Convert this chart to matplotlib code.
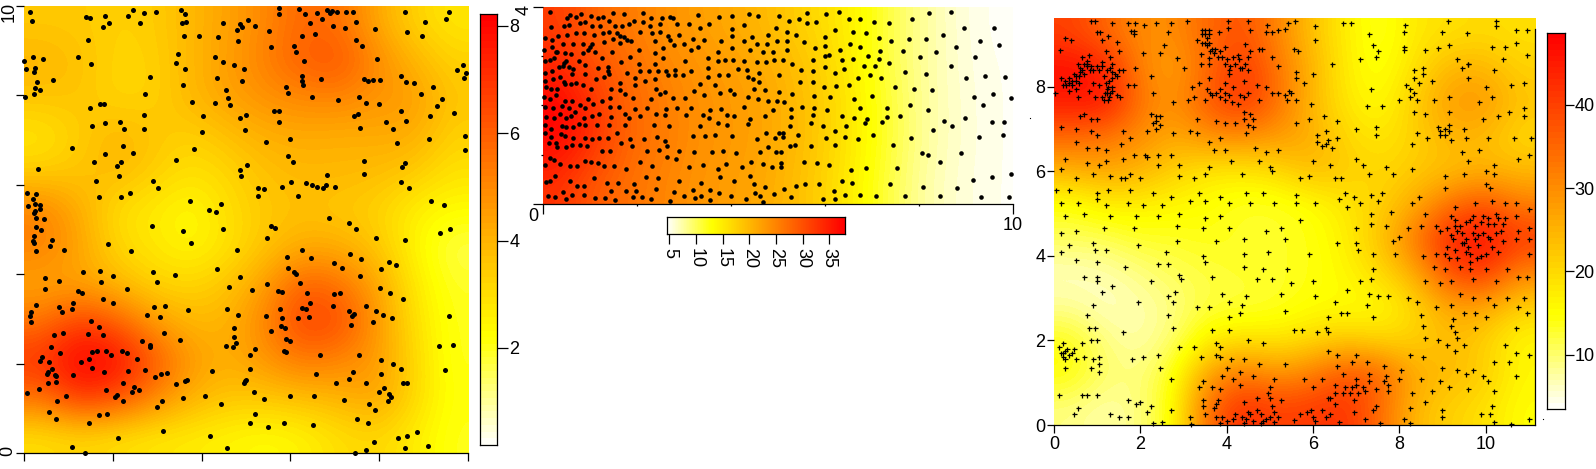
import colorsys
import numpy as np
import matplotlib
matplotlib.use("Agg")
import matplotlib.pyplot as plt
from matplotlib.colors import ListedColormap

W, H = 1596, 469
plt.rcParams['font.family'] = ['Liberation Sans', 'DejaVu Sans']

# fields, top row first
field1 = [
    [3.5, 3.5, 3.3, 3.4, 3.9, 4.4, 5.0, 5.8, 5.6, 4.3, 3.3, 2.8],
    [4.0, 3.7, 3.2, 3.3, 3.9, 4.5, 5.2, 6.0, 6.3, 5.0, 4.0, 3.3],
    [3.6, 3.6, 3.2, 3.3, 3.9, 4.4, 4.8, 5.0, 5.1, 4.7, 4.6, 3.6],
    [2.8, 3.4, 4.0, 3.6, 3.3, 3.7, 4.1, 4.2, 4.1, 4.2, 4.2, 3.3],
    [3.4, 3.6, 3.9, 3.4, 2.9, 3.2, 3.7, 3.9, 3.9, 3.8, 3.5, 2.9],
    [5.2, 4.2, 3.0, 2.7, 2.3, 3.0, 3.5, 3.7, 3.5, 3.3, 2.6, 2.3],
    [5.2, 4.4, 3.2, 2.8, 2.4, 2.9, 3.6, 4.2, 4.2, 3.6, 2.5, 1.6],
    [4.3, 4.4, 3.9, 3.3, 3.2, 3.6, 4.5, 6.0, 5.6, 4.4, 2.8, 1.9],
    [5.5, 6.8, 6.0, 4.6, 3.9, 4.0, 5.1, 6.7, 6.5, 4.7, 3.0, 2.0],
    [7.0, 8.3, 8.0, 6.2, 4.6, 4.1, 4.7, 5.4, 5.1, 4.6, 3.2, 2.0],
    [5.6, 7.1, 6.5, 5.2, 4.1, 3.6, 3.6, 3.8, 4.0, 4.5, 3.2, 2.1],
    [3.0, 3.2, 3.0, 2.8, 2.7, 2.5, 2.3, 2.5, 3.0, 3.2, 2.7, 2.0],
]
field2 = [
    [32, 28, 26, 24, 22.5, 21.5, 20, 18, 16, 13.5, 10, 7.5, 5.7, 4.8],
    [34, 30, 27.5, 25, 23.5, 22.5, 21.5, 19.5, 17, 13.5, 10, 7.5, 5.8, 5.0],
    [38, 33, 28, 26, 24, 23, 22, 20, 17.5, 14, 10.5, 7.5, 6, 5],
    [37, 33, 28, 26, 24, 23, 22, 20, 17.5, 14, 10.5, 7.5, 6, 5],
    [33, 29, 27, 25, 23.5, 22.5, 21.5, 19.5, 17, 13.5, 10, 7.2, 5.8, 5],
]
field3 = [
    [40, 35, 30, 30, 35, 38, 31, 23, 17, 13, 18, 19, 20, 19],
    [47, 45, 31, 27, 35, 42, 33, 25, 17, 14, 19, 25, 25, 21],
    [45, 46, 33, 29, 37, 42, 34, 24, 18, 15, 22, 28, 29, 23],
    [35, 33, 30, 26, 30, 30, 28, 26, 20, 18, 21, 25, 24, 20],
    [25, 27, 25, 21, 18, 18, 20, 24, 22, 20, 22, 23, 25, 24],
    [14, 17, 17, 16, 15, 13, 13, 15, 18, 21, 26, 34, 38, 32],
    [11, 11, 13, 13, 14, 13, 13, 14, 17, 23, 33, 44, 47, 41],
    [6, 7, 9, 11, 12, 13, 13, 14, 16, 20, 26, 39, 42, 31],
    [8, 6, 7, 9, 12, 12, 13, 15, 15, 15, 20, 27, 27, 21],
    [14, 9, 7, 10, 17, 19, 18, 20, 22, 20, 21, 24, 21, 16],
    [15, 10, 9, 14, 28, 33, 29, 32, 38, 36, 26, 24, 22, 16],
    [9, 7, 9, 15, 35, 43, 40, 41, 42, 34, 24, 21, 19, 15],
]

range1 = (0.19, 8.22)
range2 = (4.56, 37.95)
range3 = (3.47, 48.65)

points1 = [
    (.14,9.87),(.19,9.67),(1.40,9.76),(1.50,9.74),(1.82,9.78),(1.79,9.54),(1.91,9.63),(2.35,9.78),(2.45,9.91),(2.61,9.63),(2.71,9.85),(2.97,9.87),
    (3.53,9.91),(3.64,9.82),(3.56,9.63),(3.66,9.65),(3.60,9.33),(3.94,9.33),(4.37,9.31),(4.48,9.63),(4.79,9.46),(4.86,9.60),(4.90,9.54),(5.04,9.69),
    (5.20,9.55),(4.83,9.22),(5.52,9.44),(5.56,9.08),(5.74,9.96),(5.74,9.82),(6.19,9.93),(6.32,9.82),(6.44,9.62),(6.60,9.85),(6.71,9.71),(6.82,9.91),
    (6.88,9.85),(6.93,9.88),(7.04,9.87),(7.25,9.87),(7.40,9.87),(7.48,9.64),(6.95,9.55),(7.23,9.51),(6.25,9.33),(6.55,9.37),(7.47,9.24),(7.61,9.11),
    (7.90,9.49),(8.57,9.87),(8.62,9.42),(9.02,9.64),(8.97,9.33),(9.51,9.71),(9.56,9.87),(6.08,9.11),(6.12,8.97),(6.30,8.77),(7.94,8.82),
    (0,8.77),(.21,8.86),(.05,8.59),(.25,8.61),(.24,8.53),(.43,8.82),(1.22,8.86),(1.51,8.70),(1.44,9.24),(.66,8.35),(.30,8.30),(.26,8.17),(.36,8.11),(.24,8.03),(.02,7.97),
    (3.47,8.93),(3.43,8.73),(3.62,8.59),(3.58,8.23),(2.84,8.41),(2.73,8.03),(4.30,8.86),(4.48,8.75),(4.72,8.68),(4.95,8.59),(4.35,8.39),(4.92,8.32),(4.55,8.11),(4.59,7.94),
    (4.30,7.83),(4.64,7.79),(3.78,7.85),(4.03,7.54),(4.01,7.18),(5.90,8.19),(5.94,8.06),(6.25,8.44),(6.25,8.32),(6.28,8.23),(6.69,8.37),(6.48,7.97),(7.07,7.90),(7.54,7.97),
    (7.70,7.83),(7.65,8.37),(7.74,8.33),(7.85,8.35),(8.01,8.35),(7.99,7.81),(8.48,8.44),(8.59,8.31),(8.77,8.28),(9.20,8.19),(8.93,8.03),(9.40,7.92),(9.29,7.76),(9.74,8.57),
    (9.88,8.68),(9.95,8.50),(9.90,8.39),(1.50,7.72),(1.72,7.81),(1.81,7.81),(2.71,7.56),(2.17,7.41),(1.83,7.38),(1.53,7.32),(2.26,7.25),(2.71,7.25),(2.23,6.87),(2.46,6.71),
    (1.83,6.69),(1.09,6.83),(1.58,6.51),(2.19,6.51),(2.10,6.43),(2.14,6.20),(.32,6.36),(1.63,6.09),(1.69,5.73),(2.19,5.73),(2.39,5.82),(2.91,6.09),(3.02,5.93),(3.43,6.56),(3.83,6.80),
    (4.86,7.50),(5.00,7.56),(4.98,7.23),(5.63,7.65),(5.74,7.65),(5.74,7.41),(5.45,6.96),(5.99,7.03),(5.94,6.65),(6.06,6.51),(5.02,6.45),(4.86,6.33),(4.89,6.20),(5.27,5.93),(5.40,5.91),
    (5.27,5.75),(5.81,5.95),(6.01,6.07),(6.17,5.75),(6.35,6.04),(6.48,6.00),(6.60,5.95),(6.73,5.93),(6.80,6.00),(6.82,6.22),(7.00,5.95),(7.42,7.54),(7.52,7.59),(7.56,7.27),(8.14,7.41),
    (8.31,7.25),(8.48,7.65),(8.59,7.43),(8.40,6.94),(9.13,7.54),(9.67,7.61),(9.11,7.03),(9.92,7.09),(9.92,6.78),(7.65,6.54),(7.65,6.24),(8.57,6.49),(8.50,6.40),(8.48,6.07),(8.66,5.93),(9.16,5.64),(9.45,5.55),
    (.08,5.82),(.27,5.80),(.21,5.69),(.10,5.53),(.25,5.57),(.36,5.55),(.36,5.46),(.25,5.42),(.24,5.37),(.27,5.26),(.46,5.24),(.28,5.06),(.39,4.99),(.24,4.86),(.21,4.75),(.23,4.69),(.27,4.52),
    (.64,4.77),(.59,4.63),(.90,4.55),(1.89,4.68),(2.42,4.52),(2.89,5.08),(3.58,4.97),(3.76,4.70),(3.74,5.64),(4.16,5.44),(4.32,5.39),(4.44,5.57),(4.48,5.01),(4.79,4.55),(5.56,5.08),(5.65,5.04),
    (5.47,4.81),(6.86,5.26),(7.32,5.15),(7.47,5.01),(7.92,4.81),(8.57,4.77),(9.36,4.93),(9.58,5.01),(5.92,4.39),(6.25,4.55),(6.46,4.37),(7.34,4.46),(7.58,4.34),(6.98,4.25),(7.16,4.14),(5.94,4.14),
    (6.07,4.05),(6.12,4.01),(6.21,3.81),(4.86,3.94),(4.35,4.12),(3.40,3.99),(2.91,4.05),(3.00,3.83),(2.01,3.96),(1.72,4.08),(1.74,3.83),(1.34,4.05),(.48,3.92),(.79,3.85),(.48,3.67),(1.22,3.63),
    (1.31,3.58),(2.33,3.67),(1.79,3.45),(2.01,3.36),(1.11,3.36),(.27,3.32),(.79,3.27),(1.09,3.23),(.86,3.16),(.17,3.16),(.14,3.07),(.17,2.94),(2.93,3.27),(3.18,3.29),(2.77,3.09),(3.06,3.05),(3.69,3.20),
    (1.51,2.96),(1.69,2.82),(1.44,2.67),(1.79,2.65),(.88,2.69),(.68,2.65),(3.15,2.69),(2.66,2.51),(2.84,2.41),(2.84,2.38),(3.51,2.53),(4.61,3.72),(5.13,3.65),(5.47,3.79),(5.72,3.63),(5.81,3.61),
    (6.37,3.58),(6.44,3.36),(6.98,3.56),(7.11,3.58),(7.56,3.96),(8.03,4.12),(8.21,4.28),(8.37,4.21),(8.01,3.70),(8.24,3.58),(8.53,3.45),(4.57,3.23),(4.83,3.09),(5.45,3.07),(5.76,3.23),(5.81,3.03),
    (6.25,3.25),(6.35,3.23),(6.17,3.03),(6.41,3.05),(6.95,3.29),(7.32,3.18),(7.42,3.11),(7.38,3.07),(7.70,3.29),(7.92,3.18),(8.08,3.09),(8.28,3.03),(7.85,2.94),(7.36,2.87),(9.56,3.07),(4.72,2.80),
    (4.72,2.60),(4.77,2.47),(4.55,2.40),(4.70,2.38),(5.20,2.33),(5.09,2.20),(5.56,2.73),(5.78,2.85),(5.87,2.80),(5.90,2.56),(5.99,2.51),(5.85,2.29),(5.90,2.27),(6.66,2.20),(7.54,2.20),(9.34,2.40),(9.65,2.42),(9.48,1.86),
    (.62,2.38),(.81,2.24),(.41,2.15),(.36,2.06),(.57,2.04),(1.53,2.27),(1.65,2.29),(1.85,2.29),(1.96,2.20),(2.21,2.29),(2.33,2.24),(1.47,2.11),(1.29,2.04),(2.55,2.11),(1.53,1.91),(1.81,1.82),(2.35,1.84),
    (2.73,1.86),(.64,1.89),(.54,1.82),(.52,1.77),(.70,1.75),(.73,1.73),(1.11,1.75),(2.96,1.71),(3.09,1.77),(3.22,1.80),(.55,1.57),(.73,1.59),(2.23,1.57),(.34,1.44),(2.48,1.48),(2.59,1.42),(2.44,1.37),
    (1.85,1.42),(.08,1.35),(2.09,1.30),(2.05,1.26),(.95,1.28),(.75,1.17),(2.23,1.17),(3.11,1.17),(2.99,1.04),(.57,.92),(.73,.75),(1.69,.86),(1.87,.88),(1.47,.66),(2.12,.34),(3.13,.50),(1.09,.14),(1.38,.01),
    (3.43,1.55),(3.64,1.62),(3.67,1.64),(3.58,1.24),(4.08,1.28),(4.23,1.84),(4.44,1.10),(5.09,1.89),(5.00,1.64),(4.98,1.62),(4.95,1.57),(5.17,1.37),(5.40,1.21),(5.99,1.28),(6.53,1.28),(5.20,.88),(5.09,.66),
    (5.49,.59),(5.85,.68),(6.50,.63),(4.19,.37),(4.57,.12),(6.57,1.77),(7.02,1.57),(7.32,1.66),(7.40,1.82),(7.70,1.57),(8.03,2.09),(8.03,1.77),(8.31,2.00),(8.48,1.89),(8.53,1.57),(8.62,1.57),(8.10,1.46),
    (7.99,1.37),(8.21,1.33),(8.26,1.26),(8.19,1.17),(7.20,1.19),(7.77,1.10),(7.90,.97),(7.49,.77),(7.74,.66),(8.84,.48),(8.62,.39),(8.41,.34),(7.87,.25),(9.09,.16),(8.57,.12),(7.70,.07),(7.45,.01),
]

points2 = [
    (.14,3.89),(.57,3.83),(.80,3.85),(1.02,3.81),(1.17,3.77),(1.27,3.79),(1.49,3.87),(1.72,3.85),(2.13,3.87),(2.30,3.77),(2.52,3.77),(2.69,3.79),(2.77,3.77),(3.30,3.83),(3.75,3.79),(4.02,3.81),
    (4.39,3.85),(4.58,3.81),(5.02,3.81),(5.62,3.87),(6.01,3.85),(6.29,3.89),(6.51,3.75),(6.75,3.75),(7.05,3.69),(7.37,3.68),(7.86,3.76),(8.22,3.87),(8.69,3.89),
    (.16,3.59),(.44,3.61),(.50,3.77),(.55,3.63),(.70,3.79),(.78,3.67),(.89,3.69),(1.04,3.61),(1.21,3.61),(1.40,3.71),(1.53,3.61),(1.68,3.61),(1.83,3.65),(1.93,3.71),(2.12,3.69),(2.27,3.61),
    (2.49,3.65),(2.85,3.65),(3.11,3.65),(3.34,3.57),(3.52,3.65),(4.02,3.56),(4.28,3.63),(4.96,3.57),(5.24,3.71),(5.45,3.75),(5.62,3.67),(5.81,3.69),(6.22,3.53),(8.95,3.58),(9.59,3.58),
    (.04,3.38),(.19,3.32),(.32,3.42),(.50,3.44),(.70,3.48),(.87,3.48),(1.08,3.44),(1.27,3.48),(1.40,3.50),(1.57,3.47),(1.64,3.42),(1.72,3.40),(1.78,3.33),(2.06,3.50),(2.32,3.48),(2.49,3.50),
    (2.66,3.42),(2.70,3.33),(2.89,3.44),(3.19,3.36),(3.42,3.34),(4.02,3.42),(4.45,3.40),(4.79,3.44),(5.19,3.50),(5.39,3.44),(5.99,3.40),(6.60,3.50),(6.88,3.48),(7.14,3.38),(7.41,3.30),(7.79,3.36),(8.14,3.36),(8.52,3.44),(9.29,3.31),
    (.01,3.13),(.19,3.18),(.29,3.08),(.42,3.24),(.63,3.24),(.85,3.24),(1.04,3.24),(1.29,3.28),(1.49,3.36),(1.64,3.27),(1.87,3.30),(2.04,3.12),(2.38,3.30),(2.38,3.06),(2.55,3.16),(2.79,3.22),(3.00,3.24),
    (3.15,3.12),(3.30,3.18),(3.79,3.30),(3.72,3.09),(4.02,3.16),(4.41,3.13),(4.28,3.30),(4.56,3.24),(4.77,3.24),(4.98,3.30),(5.19,3.30),(5.19,3.12),(4.88,3.08),(4.68,3.08),(5.54,3.28),(5.79,3.16),(5.99,3.21),(6.09,3.03),
    (6.31,3.13),(6.52,3.24),(6.75,3.19),(7.16,3.11),(7.65,3.10),(8.37,3.08),(8.78,3.19),(9.70,3.22),
    (.04,2.91),(.23,2.97),(.27,3.08),(.14,2.93),(.46,3.06),(.59,3.04),(.48,2.90),(.76,2.91),(.85,3.06),(.95,3.13),(.99,3.18),(1.10,3.08),(1.25,2.96),(1.46,3.08),(1.66,2.89),(1.85,2.99),(2.04,2.85),
    (2.38,2.85),(2.55,2.96),(3.02,2.91),(3.51,2.96),(3.72,2.90),(3.87,2.93),(4.04,2.93),(4.28,2.91),(4.56,2.89),(4.75,2.89),(4.92,2.93),(5.11,2.93),(5.30,2.85),(5.75,2.93),(5.99,3.00),(6.35,2.93),(6.60,2.95),
    (6.92,3.00),(7.14,2.95),(7.37,2.87),(8.01,2.98),(9.19,2.98),(8.67,2.81),
    (.03,2.65),(.19,2.71),(.33,2.78),(.44,2.87),(.42,2.81),(.55,2.79),(.63,2.75),(.89,2.82),(1.17,2.77),(1.38,2.79),(1.38,2.71),(1.78,2.65),(2.06,2.71),(2.25,2.71),(2.45,2.71),(2.62,2.71),(2.81,2.73),
    (3.15,2.71),(3.51,2.77),(4.15,2.75),(4.34,2.73),(4.60,2.67),(5.49,2.73),(5.75,2.71),(5.99,2.79),(6.20,2.65),(6.41,2.75),(6.82,2.81),(7.07,2.81),(7.71,2.69),(8.14,2.63),
    (.03,2.50),(.21,2.53),(.36,2.58),(.44,2.48),(.61,2.63),(.70,2.46),(.89,2.63),(1.12,2.53),(1.29,2.57),(1.40,2.63),(1.64,2.46),(1.95,2.55),(2.17,2.50),(2.38,2.53),(2.66,2.61),(2.81,2.61),(2.98,2.61),
    (3.34,2.43),(3.51,2.58),(3.75,2.61),(3.94,2.61),(4.36,2.57),(4.47,2.54),(4.60,2.48),(5.02,2.61),(5.47,2.47),(5.75,2.47),(6.71,2.55),(6.95,2.61),(7.20,2.56),(8.99,2.55),(9.41,2.59),(9.82,2.57),
    (.06,2.38),(.16,2.34),(.29,2.34),(.46,2.44),(.59,2.44),(.85,2.42),(1.02,2.33),(1.44,2.34),(1.63,2.31),(1.95,2.41),(2.40,2.34),(2.59,2.28),(3.21,2.30),(3.66,2.41),(3.98,2.32),(4.49,2.34),(4.71,2.32),(5.02,2.28),
    (5.98,2.38),(6.24,2.39),(6.50,2.41),(7.48,2.38),(7.90,2.33),(8.27,2.31),
    (.01,2.18),(.14,2.14),(.27,2.22),(.46,2.09),(.61,2.10),(.95,2.13),(1.25,2.10),(1.42,2.16),(1.74,2.24),(1.91,2.16),(2.30,2.14),(2.49,2.24),(2.77,2.16),(3.02,2.16),(3.43,2.22),(3.77,2.26),(4.07,2.24),(4.36,2.18),
    (4.58,2.14),(4.79,2.10),(4.98,2.10),(5.13,2.08),(5.30,2.24),(5.77,2.20),(6.11,2.17),(6.62,2.13),(7.00,2.20),(9.18,2.18),(9.57,2.24),(9.95,2.16),
    (.04,1.96),(.21,1.94),(.40,1.98),(.55,1.94),(.68,1.87),(.78,2.02),(.89,1.94),(1.06,2.04),(1.42,1.97),(1.61,1.96),(1.95,1.92),(2.21,1.94),(2.62,1.92),(2.85,1.94),(3.15,1.94),(3.55,1.90),(3.79,1.92),(4.28,1.96),
    (4.90,1.90),(5.28,1.93),(5.51,1.97),(5.77,1.94),(6.04,1.90),(6.75,1.94),(7.31,1.94),(7.80,2.02),(8.18,1.90),(9.37,2.02),
    (.06,1.77),(.23,1.74),(.36,1.82),(.49,1.74),(.59,1.79),(.87,1.74),(1.04,1.78),(1.19,1.82),(1.44,1.77),(1.75,1.83),(1.83,1.74),(2.06,1.78),(2.40,1.82),(2.60,1.80),(3.04,1.80),(3.39,1.80),(3.53,1.74),(3.92,1.80),
    (4.07,1.79),(4.41,1.73),(4.71,1.79),(5.28,1.77),(5.75,1.80),(6.37,1.78),(6.62,1.75),(6.89,1.72),(7.31,1.77),(7.60,1.78),(8.53,1.69),(8.98,1.74),(9.56,1.67),(9.81,1.66),
    (.03,1.60),(.16,1.52),(.39,1.58),(.49,1.56),(.64,1.56),(.75,1.62),(.89,1.60),(1.15,1.60),(1.40,1.60),(1.74,1.60),(2.36,1.60),(2.68,1.59),(3.34,1.59),(3.72,1.65),(3.91,1.60),(4.36,1.62),(4.75,1.44),(5.01,1.44),
    (5.26,1.59),(5.69,1.64),(5.96,1.58),(6.45,1.59),(6.84,1.65),(7.22,1.66),(7.83,1.35),(8.30,1.50),(8.71,1.59),
    (.03,1.44),(.16,1.36),(.38,1.43),(.46,1.39),(.63,1.33),(.89,1.33),(1.04,1.32),(1.19,1.33),(1.38,1.33),(1.57,1.44),(1.85,1.32),(2.15,1.32),(2.42,1.36),(2.59,1.28),(3.19,1.38),(3.45,1.38),(3.66,1.40),(4.02,1.38),
    (4.54,1.32),(4.94,1.34),(5.11,1.44),(5.11,1.37),(5.43,1.40),(6.01,1.34),(6.20,1.49),(6.43,1.37),(6.71,1.32),(7.03,1.40),(9.27,1.36),(9.78,1.40),
    (.12,1.24),(.27,1.24),(.29,1.16),(.48,1.16),(.61,1.20),(.78,1.20),(.93,1.17),(1.25,1.08),(1.42,1.08),(1.66,1.23),(1.89,1.17),(2.21,1.08),(2.47,1.10),(2.64,1.18),(2.89,1.08),(3.21,1.06),(3.60,1.06),(3.83,1.08),
    (4.11,1.04),(4.62,1.06),(4.79,1.15),(4.96,1.06),(5.07,1.06),(5.26,1.18),(5.35,1.20),(5.71,1.18),(6.20,1.20),(7.44,1.20),(8.07,1.04),(8.89,1.04),
    (.04,.79),(.14,.94),(.23,.89),(.36,.81),(.57,.77),(.72,.77),(.89,.87),(1.01,.85),(1.16,.83),(1.29,.77),(1.51,.77),(1.76,.72),(2.06,.85),(2.32,.77),(2.64,.95),(2.83,.91),(3.11,.75),(3.40,.79),(3.72,.72),(3.90,.82),(4.24,.75),
    (4.43,.85),(4.67,.81),(4.87,.75),(5.07,.75),(5.07,.83),(5.54,.85),(5.82,.83),(6.08,.79),(6.56,.69),(6.86,.73),(7.52,.73),(8.19,.99),(8.44,.85),(9.95,.60),
    (.06,.45),(.14,.46),(.25,.56),(.57,.46),(.72,.37),(.87,.37),(1.08,.52),(1.35,.43),(1.59,.43),(1.93,.41),(2.19,.54),(2.45,.52),(2.89,.46),(3.36,.43),(3.77,.54),(4.06,.46),(4.41,.56),(4.49,.41),(4.71,.34),(5.37,.37),(5.57,.41),
    (5.87,.41),(6.35,.46),(6.58,.43),(7.39,.41),(9.14,.48),(9.55,.54),
    (.09,.17),(.25,.15),(.42,.25),(.48,.10),(.61,.19),(.87,.19),(1.10,.13),(1.32,.13),(1.45,.27),(1.53,.08),(1.76,.27),(1.91,.15),(1.98,.27),(2.10,.15),(2.30,.11),(2.40,.31),(2.70,.06),(2.79,.25),(3.00,.17),(3.19,.29),(3.23,.13),
    (3.36,.17),(3.55,.09),(3.55,.29),(3.75,.23),(4.00,.17),(4.32,.11),(4.51,.23),(4.62,.17),(4.68,.05),(4.92,.21),(5.13,.31),(5.28,.15),(5.96,.11),(6.18,.27),(6.22,.11),(6.43,.19),(6.75,.19),(7.09,.17),(7.71,.17),(8.08,.35),(8.44,.17),(8.80,.33),(9.31,.15),(9.91,.15),
]

points3 = [
    (.86,9.55),(.95,9.55),(1.35,9.51),(1.70,9.51),(1.88,9.51),(2.08,9.47),(2.37,9.51),(2.70,9.51),(3.08,9.55),(4.04,9.55),(4.49,9.56),(4.94,9.47),(5.42,9.52),(5.59,9.57),(6.05,9.44),(6.70,9.51),(6.89,9.52),(8.14,9.47),(9.12,9.55),(10.25,9.55),(10.25,9.45),
    (1.00,9.30),(1.07,9.30),(1.86,9.33),(1.86,9.25),(1.77,9.33),(2.65,9.30),(3.42,9.35),(3.42,9.25),(3.50,9.35),(3.50,9.25),(3.58,9.35),(3.58,9.25),(3.82,9.30),(4.04,9.40),(4.55,9.35),(4.92,9.30),(5.05,9.30),(5.18,9.35),(5.35,9.38),(7.30,9.25),(8.10,9.30),(9.00,9.30),(9.58,9.27),(10.70,9.35),(10.95,9.35),
    (.25,9.15),(.40,9.10),(1.10,9.10),(1.25,9.20),(1.45,9.07),(2.55,9.00),(3.30,9.10),(3.42,9.05),(3.50,9.05),(3.60,9.05),(3.65,8.90),(3.73,8.90),(3.95,8.95),(4.42,9.02),(4.75,8.90),(4.82,8.90),(5.55,8.90),(6.05,9.10),(7.40,8.98),(7.50,8.85),(8.10,8.95),(8.10,8.88),(8.60,8.88),(8.90,8.93),(9.15,8.98),(10.15,8.95),(10.45,8.95),(10.70,9.05),
    (.13,8.88),(.65,8.70),(.80,8.75),(1.20,8.85),(1.30,8.70),(1.50,8.85),(2.05,8.80),(2.45,8.80),(2.85,8.68),(3.40,8.78),(3.60,8.68),(3.80,8.70),(4.25,8.75),(4.50,8.70),(4.55,8.85),(5.05,8.70),(5.65,8.85),(6.45,8.55),(7.10,8.65),(7.45,8.70),(9.35,8.65),(9.60,8.55),(10.40,8.65),(10.95,8.75),
    (.55,8.55),(.60,8.45),(.65,8.40),(.68,8.55),(.75,8.50),(.85,8.50),(.90,8.40),(1.00,8.50),(1.05,8.40),(1.30,8.45),(1.35,8.35),(1.35,8.55),(1.50,8.40),(1.60,8.40),(1.88,8.45),(3.00,8.45),(3.40,8.55),(3.95,8.55),(4.05,8.40),(4.05,8.30),(4.30,8.45),(4.42,8.55),(4.50,8.40),(5.20,8.50),(5.60,8.35),(6.00,8.30),(8.35,8.40),(8.55,8.30),(8.55,8.45),(9.45,8.45),(9.60,8.55),(10.20,8.40),
    (.15,8.20),(.25,8.15),(.35,8.20),(.45,8.30),(.50,8.15),(.60,8.35),(.70,8.30),(.90,8.10),(1.05,8.05),(1.15,8.25),(1.20,8.10),(1.25,8.00),(1.40,8.30),(1.70,8.05),(1.85,8.05),(2.25,8.25),(3.20,8.00),(3.35,8.10),(3.60,8.20),(4.15,8.00),(4.40,8.15),(4.70,8.05),(4.90,8.00),(5.60,8.20),(5.80,8.10),(7.35,7.95),(8.15,8.05),(8.45,8.10),(8.75,8.15),(9.60,8.20),(10.00,8.00),(10.60,8.05),(10.90,8.10),
    (.02,7.85),(.35,7.90),(.50,7.95),(.55,7.75),(.80,7.90),(.95,7.75),(1.10,7.75),(1.17,7.85),(1.25,7.70),(1.30,7.85),(1.45,7.80),(2.30,7.85),(2.75,7.65),(3.10,7.70),(3.25,7.75),(3.50,7.70),(3.65,7.80),(3.85,7.75),(3.95,7.70),(4.25,7.60),(4.40,7.75),(4.75,7.70),(5.35,7.80),(5.50,7.85),(5.60,7.70),(5.95,7.60),(8.00,7.70),(8.25,7.75),(8.80,7.70),(9.15,7.75),(9.85,7.65),(10.15,7.75),(10.90,7.50),
    (.60,7.30),(.70,7.35),(.85,7.25),(1.00,7.25),(2.25,7.35),(2.35,7.20),(2.45,7.10),(3.30,7.25),(3.75,7.20),(3.95,7.15),(4.20,7.15),(4.40,7.25),(4.50,7.10),(5.60,7.15),(5.90,7.25),(6.25,7.30),(6.55,7.20),(7.25,7.55),(7.60,7.55),(8.35,7.40),(8.60,7.35),(9.15,7.40),(9.95,7.25),(10.30,7.30),(10.55,7.40),(10.90,7.30),
    (.15,7.05),(.50,7.00),(.85,6.95),(1.00,6.85),(1.60,6.95),(1.75,6.80),(2.15,6.95),(2.35,7.00),(2.75,6.90),(3.15,6.95),(3.30,6.90),(3.60,6.70),(3.85,6.80),(4.45,6.90),(6.10,6.85),(6.35,6.75),(6.55,6.80),(7.00,7.00),(7.45,7.05),(7.45,6.85),(8.40,6.90),(8.65,6.80),(8.95,6.85),(9.20,6.75),(9.55,6.80),(10.05,6.80),(10.65,6.80),(11.05,6.80),
    (.50,6.70),(.75,6.55),(1.00,6.55),(1.20,6.50),(1.55,6.65),(1.85,6.40),(2.10,6.40),(2.40,6.40),(2.70,6.40),(3.70,6.50),(3.95,6.50),(4.65,6.55),(4.90,6.45),(5.20,6.50),(6.30,6.65),(6.45,6.55),(8.30,6.65),(9.45,6.45),(9.85,6.50),
    (.25,6.30),(.15,6.05),(.75,6.20),(1.05,6.15),(1.20,6.25),(1.60,6.30),(2.15,6.35),(2.40,6.15),(2.90,6.15),(3.60,6.10),(4.10,6.25),(4.75,6.25),(5.00,6.10),(6.00,6.25),(6.40,6.15),(7.00,6.30),(7.15,6.15),(7.70,6.10),(8.30,6.05),(9.60,6.25),(10.20,6.15),(10.75,6.30),(11.00,6.40),
    (.50,5.85),(.90,5.95),(1.30,5.90),(1.55,5.85),(1.65,5.85),(1.75,5.95),(2.00,5.85),(2.90,5.90),(3.25,5.85),(3.50,5.95),(4.35,5.95),(5.05,6.00),(5.70,5.85),(5.90,5.90),(6.50,5.85),(6.65,5.85),(7.30,5.95),(7.85,5.95),(9.05,5.90),(9.50,5.95),(10.00,6.00),(10.20,5.95),
    (.05,5.55),(.35,5.55),(1.00,5.50),(1.25,5.55),(1.75,5.55),(2.30,5.50),(2.70,5.40),(3.35,5.50),(3.85,5.40),(4.45,5.50),(4.85,5.50),(5.60,5.45),(6.75,5.50),(6.95,5.40),(7.35,5.45),(7.60,5.50),(8.45,5.40),(9.05,5.60),(10.00,5.70),(10.10,5.60),
    (.15,5.25),(.55,5.25),(1.00,5.35),(1.20,5.20),(1.70,5.25),(2.05,5.20),(2.50,5.20),(3.15,5.30),(3.50,5.30),(4.05,5.25),(4.55,5.25),(5.10,5.25),(5.60,5.25),(6.05,5.25),(6.80,5.15),(6.60,5.35),(7.10,5.25),(7.50,5.30),(8.30,5.25),(9.30,5.15),(9.75,5.25),(10.15,5.30),(10.45,5.25),(10.70,5.25),
    (.25,4.95),(.70,5.00),(1.30,4.95),(1.90,4.95),(2.40,4.95),(2.90,5.00),(3.50,4.90),(3.85,4.95),(5.70,4.85),(7.35,5.00),(7.80,5.05),(8.60,5.00),(9.20,4.95),(9.65,4.85),(9.95,4.95),(10.25,5.00),(10.45,4.90),(10.70,4.95),(11.00,5.10),
    (.15,4.55),(.50,4.60),(1.15,4.65),(1.85,4.65),(2.85,4.70),(3.45,4.65),(4.05,4.65),(4.90,4.60),(5.25,4.65),(7.00,4.65),(7.35,4.75),(7.70,4.70),(8.20,4.65),(8.50,4.70),(8.85,4.70),(9.10,4.65),(9.30,4.70),(9.45,4.55),(9.75,4.70),(10.05,4.75),(10.35,4.60),(10.75,4.60),(11.00,4.65),
    (.35,4.25),(.90,4.30),(1.95,4.25),(2.85,4.35),(3.75,4.35),(4.40,4.40),(5.35,4.40),(6.55,4.30),(7.00,4.30),(7.85,4.35),(8.00,4.45),(9.25,4.40),(9.50,4.30),(9.75,4.40),(10.10,4.40),(10.40,4.35),(10.70,4.40),(11.00,4.40),
    (.15,4.10),(.95,4.15),(1.20,4.15),(2.60,4.10),(3.45,4.00),(4.40,4.05),(4.95,4.10),(5.90,4.05),(7.05,4.15),(7.40,4.05),(7.90,4.05),(8.55,4.00),(8.85,4.05),(9.05,4.05),(9.30,4.15),(9.55,4.10),(9.80,3.95),(10.00,4.05),(10.30,4.10),(11.00,4.05),
    (.50,3.90),(1.00,3.85),(1.65,3.75),(2.40,3.80),(2.65,3.80),(3.50,3.85),(4.40,3.75),(4.85,3.70),(5.40,3.70),(7.40,3.70),(8.80,3.75),(9.05,3.70),(9.40,3.75),(9.65,3.70),(10.00,3.70),(10.50,3.70),
    (.70,3.50),(1.00,3.50),(1.00,3.40),(2.25,3.40),(2.90,3.55),(2.95,3.45),(3.65,3.50),(4.70,3.45),(5.05,3.45),(5.50,3.35),(6.00,3.40),(7.35,3.45),(7.10,3.40),(8.60,3.40),(8.95,3.35),(9.20,3.40),(9.70,3.45),(10.25,3.40),(10.75,3.50),(10.95,3.50),
    (1.10,3.15),(1.35,3.30),(2.65,3.05),(2.80,3.15),(3.90,3.10),(4.45,3.05),(5.25,3.10),(6.05,3.05),(6.80,3.20),(7.30,3.10),(7.50,3.05),(7.75,3.05),(8.20,3.00),(9.40,3.10),(9.70,3.00),(10.05,3.00),(10.50,3.00),(10.90,3.00),
    (.90,2.85),(1.95,2.90),(2.75,2.90),(3.30,2.80),(3.60,2.80),(4.05,2.90),(4.35,2.85),(5.35,2.70),(6.50,2.90),(7.25,2.85),(8.40,2.90),(8.85,2.80),(9.20,2.85),(10.20,2.85),(10.75,2.80),(10.95,2.65),
    (.75,2.60),(2.65,2.60),(4.05,2.55),(4.30,2.65),(6.35,2.55),(6.65,2.65),(6.80,2.65),(7.40,2.55),(8.50,2.60),(9.25,2.50),(9.50,2.65),(9.75,2.65),(10.00,2.55),
    (.80,2.30),(.95,2.30),(1.60,2.20),(2.75,2.30),(3.65,2.25),(4.05,2.25),(5.55,2.25),(5.75,2.25),(6.10,2.20),(6.30,2.30),(6.35,2.20),(8.55,2.35),(9.20,2.35),(9.30,2.20),(9.75,2.30),(10.70,2.30),
    (.20,1.95),(.10,1.85),(.30,1.80),(.45,1.80),(.65,1.95),(.85,2.00),(1.00,2.00),(2.90,1.85),(3.25,1.85),(3.75,1.95),(3.85,1.85),(4.50,2.00),(4.85,1.95),(8.60,2.05),(8.90,2.00),(9.10,1.90),(9.35,2.05),(9.50,1.90),(10.45,1.90),
    (.15,1.70),(.20,1.60),(.35,1.65),(.50,1.55),(.70,1.60),(.90,1.55),(1.05,1.60),(2.40,1.65),(3.40,1.60),(3.75,1.65),(3.85,1.60),(4.10,1.55),(4.40,1.55),(6.35,1.75),(6.55,1.65),(7.00,1.65),(8.25,1.65),(8.55,1.60),(9.30,1.75),(10.70,1.70),(11.00,1.65),
    (.25,1.35),(.85,1.35),(1.05,1.25),(1.80,1.55),(2.05,1.60),(2.45,1.35),(4.00,1.35),(4.30,1.25),(4.75,1.45),(5.35,1.45),(6.55,1.40),(6.90,1.50),(7.25,1.50),(7.65,1.40),(8.05,1.30),(9.00,1.35),(9.35,1.30),(9.70,1.30),(10.20,1.50),(10.55,1.50),
    (2.70,1.10),(3.45,1.05),(3.90,1.15),(4.15,1.10),(4.60,1.15),(5.10,1.10),(5.80,1.10),(6.20,1.10),(6.70,1.20),(7.00,1.10),(7.30,1.20),(7.70,1.15),(8.00,1.10),(8.50,1.10),(8.95,1.05),(9.55,1.20),(9.95,1.15),(10.05,1.05),(10.70,1.15),
    (.10,.70),(.65,.70),(.75,.70),(1.00,.70),(3.35,.90),(3.65,.90),(3.85,.85),(4.30,.95),(5.00,.90),(6.00,.90),(6.50,.95),(6.90,.90),(7.15,.90),(7.75,.95),(8.30,.75),(8.75,.80),(9.15,.90),(9.60,.85),(10.20,.80),
    (.55,.40),(.45,.25),(1.30,.25),(1.70,.60),(1.90,.50),(2.00,.55),(2.25,.45),(3.45,.60),(3.80,.60),(4.40,.55),(4.70,.65),(5.25,.60),(6.35,.65),(6.50,.50),(6.95,.60),(7.45,.45),(8.25,.40),(8.60,.55),(9.00,.35),(10.15,.45),
    (1.50,.20),(1.70,.20),(2.15,.30),(2.70,.35),(3.15,.20),(3.75,.20),(4.15,.15),(4.55,.25),(4.90,.15),(5.10,.30),(5.70,.25),(6.00,.20),(6.40,.25),(6.95,.30),(7.40,.35),(8.10,.15),(9.00,.20),(9.90,.25),(10.10,.25),(11.00,.15),
    (2.30,.05),(2.50,.08),(3.17,.03),(3.85,.05),(4.40,.05),(4.80,.05),(5.10,.08),(5.55,.12),(6.60,.08),(7.55,.05),(8.25,.05),(10.20,.08),(10.60,.02),
]
# extra marks in the crowded patches of the right panel
points3_dense = [
    (.20,8.05),(.28,8.05),(.35,8.10),(.42,8.15),(.42,8.05),(.50,8.25),(.58,8.25),(.58,8.10),(.75,8.55),(.75,8.62),(.82,8.40),(1.10,8.50),(1.10,8.60),(1.22,8.40),(1.22,7.95),(1.22,7.85),(1.28,8.15),(1.28,7.75),(1.15,7.70),(1.35,8.20),(1.35,8.00),(1.35,7.90),(1.45,8.25),(1.52,7.75),
    (3.55,9.15),(3.55,9.00),(3.62,8.85),(3.70,8.80),(3.85,8.85),(3.90,8.70),(3.60,8.55),(3.55,7.95),(3.62,7.85),(3.75,7.85),(3.85,7.95),(3.95,7.85),(3.95,8.10),(4.00,8.65),(4.08,8.50),(4.15,8.70),(4.20,8.55),(4.28,8.65),(4.35,8.45),(4.05,7.80),(4.12,7.65),(4.30,7.80),(4.50,7.85),(4.55,7.35),(4.62,7.25),(4.62,7.05),(4.40,7.40),
    (9.30,4.85),(9.35,4.60),(9.40,4.70),(9.45,4.30),(9.55,4.80),(9.55,4.40),(9.60,4.20),(9.65,4.05),(9.70,4.55),(9.70,4.95),(9.82,4.50),(9.82,4.25),(9.90,4.80),(9.90,4.00),(9.95,4.55),(10.05,4.90),(10.05,4.45),(10.15,4.20),(10.20,4.75),(10.25,4.55),(10.30,4.90),(10.40,4.75),(9.20,4.50),(9.10,4.20),(8.95,4.60),(9.15,3.95),(9.35,3.95),(9.65,3.85),
    (3.90,.20),(4.00,.10),(4.20,.25),(4.35,.20),(4.45,.15),(4.50,.30),(4.60,.10),(4.70,.35),(4.80,.25),(4.85,.10),(5.00,.20),(5.05,.45),(5.20,.20),(5.00,.65),(4.95,.75),(5.85,.30),(5.95,.35),(6.05,.10),(6.20,.35),(6.30,.20),(6.40,.65),(6.50,.75),(6.70,.75),(6.75,.90),(6.85,.75),(7.00,.95),(7.05,.75),(7.20,.15),(7.20,.80),(7.30,1.05),(7.45,.85),(7.65,1.05),(7.75,.80),(3.70,.40),(3.75,.50),(3.45,.45),(3.50,.25),
    (8.90,7.05),(8.95,6.95),(9.05,7.00),(9.05,6.85),(9.15,7.10),(9.15,6.95),(9.50,7.00),(8.35,8.20),(8.35,7.85),(8.25,7.95),(8.40,7.70),(6.30,6.95),(6.10,6.70),(6.20,6.60),(5.45,7.90),(5.40,7.70),(5.20,7.85),(5.05,7.85),(2.35,7.30),(2.45,7.30),(2.30,7.15),(.25,1.75),(.20,1.70),(.25,1.55),(.42,1.70),(1.05,1.45),
]
# tiny specks outside the right panel
specks3 = [(-.56,7.27),(11.34,.14)]


def heat_ramp(n=64):
    j = n // 4
    i = n - j
    cols = [colorsys.hsv_to_rgb(k / (i - 1) / 6, 1, 1) for k in range(i)]
    cols += [colorsys.hsv_to_rgb(1 / 6, s, 1)
             for s in np.linspace(1 - 1 / (2 * j), 1 / (2 * j), j)]
    return ListedColormap(cols[::-1])


cmap = heat_ramp()
fig = plt.figure(figsize=(W / 100, H / 100), dpi=100)


def px_axes(x0, y0, x1, y1):
    return fig.add_axes([x0 / W, 1 - y1 / H, (x1 - x0) / W, (y1 - y0) / H])


def show_field(ax, field, vrange, xlim, ylim):
    ax.imshow(field, cmap=cmap, vmin=vrange[0], vmax=vrange[1], aspect='auto',
              interpolation='bicubic', interpolation_stage='data',
              extent=(xlim[0], xlim[1], ylim[0], ylim[1]))
    for s in ['top', 'right', 'left']:
        ax.spines[s].set_visible(False)
    ax.spines['bottom'].set_linewidth(0.9)
    ax.set_xlim(xlim)
    ax.set_ylim(ylim)


def colorbar(x0, y0, x1, y1, vrange, ticks, horizontal=False, length=7):
    ax = px_axes(x0, y0, x1, y1)
    vals = np.linspace(vrange[0], vrange[1], 64)
    if horizontal:
        ax.imshow(vals[None, :], cmap=cmap, aspect='auto', extent=(vrange[0], vrange[1], 0, 1))
        ax.set_yticks([])
        ax.set_xticks(ticks)
        ax.set_xticklabels([str(t) for t in ticks], rotation=-90, fontsize=13)
        ax.tick_params(axis='x', length=length, width=0.9, pad=3)
    else:
        ax.imshow(vals[::-1, None], cmap=cmap, aspect='auto', extent=(0, 1, vrange[0], vrange[1]))
        ax.set_xticks([])
        ax.yaxis.tick_right()
        ax.set_yticks(ticks)
        ax.set_yticklabels([str(t) for t in ticks], fontsize=13)
        ax.tick_params(axis='y', length=length, width=0.9, pad=1)
    for s in ax.spines.values():
        s.set_linewidth(0.9)
    return ax


def offset_label(ax, text, xy, dx, dy, rotation=0):
    ax.annotate(text, xy, xytext=(dx, dy), textcoords='offset pixels', fontsize=13,
                rotation=rotation, ha='center', va='center', annotation_clip=False)


# left panel
ax1 = px_axes(23.7, 6, 468.2, 453)
show_field(ax1, field1, range1, (0, 10), (0, 10))
ax1.plot(*zip(*points1), 'o', color='black', ms=3.6, mew=0, clip_on=False)
ax1.set_xticks(np.arange(0, 11, 2))
ax1.set_xticklabels([])
ax1.set_yticks(np.arange(0, 11, 2))
ax1.set_yticklabels([])
ax1.tick_params(length=6, width=0.9)
offset_label(ax1, '10', (0, 10), -14.5, -5.5, rotation=90)
offset_label(ax1, '0', (0, 0), -16, 2, rotation=90)
colorbar(480.4, 14, 497.3, 445, range1, [2, 4, 6, 8], length=7.8)

# middle panel
ax2 = px_axes(543.3, 7, 1013, 204)
show_field(ax2, field2, range2, (0, 10), (0, 4))
ax2.plot(*zip(*points2), 'o', color='black', ms=3.3, mew=0, clip_on=False)
ax2.set_xticks([0, 10])
ax2.set_xticklabels([])
ax2.set_xticks([2, 4, 6, 8], minor=True)
ax2.set_yticks([0, 4])
ax2.set_yticklabels([])
ax2.set_yticks([1, 2, 3], minor=True)
ax2.tick_params(which='major', length=7, width=0.9)
ax2.tick_params(which='minor', length=1.5, width=0.9)
offset_label(ax2, '0', (0, 0), -10, -12)
offset_label(ax2, '10', (10, 0), 0, -21)
offset_label(ax2, '4', (0, 4), -19, -3, rotation=90)
colorbar(667, 217, 845, 234, range2, [5, 10, 15, 20, 25, 30, 35], horizontal=True)

# right panel
ax3 = px_axes(1053.5, 18, 1534.7, 425)
show_field(ax3, field3, range3, (-0.016, 11.14), (0, 9.63))
ax3.spines['right'].set_visible(True)
ax3.spines['right'].set_linewidth(0.9)
ax3.spines['right'].set_bounds(0, 9.37)
ax3.plot(*zip(*points3), '+', color='black', ms=3.6, mew=0.9, clip_on=False)
ax3.plot(*zip(*points3_dense), '+', color='black', ms=3.6, mew=0.9, clip_on=False)
ax3.plot(*zip(*specks3), 's', color='black', ms=0.8, mew=0, clip_on=False)
ax3.set_xticks(np.arange(0, 11, 2))
ax3.set_yticks(np.arange(0, 9, 2))
ax3.tick_params(labelsize=13, width=0.9)
ax3.tick_params(axis='x', length=5.8, pad=2)
ax3.tick_params(axis='y', length=5, pad=1)
colorbar(1547.3, 33, 1564.6, 409, range3, [10, 20, 30, 40], length=6.2)

fig.savefig("out.png", dpi=100)
